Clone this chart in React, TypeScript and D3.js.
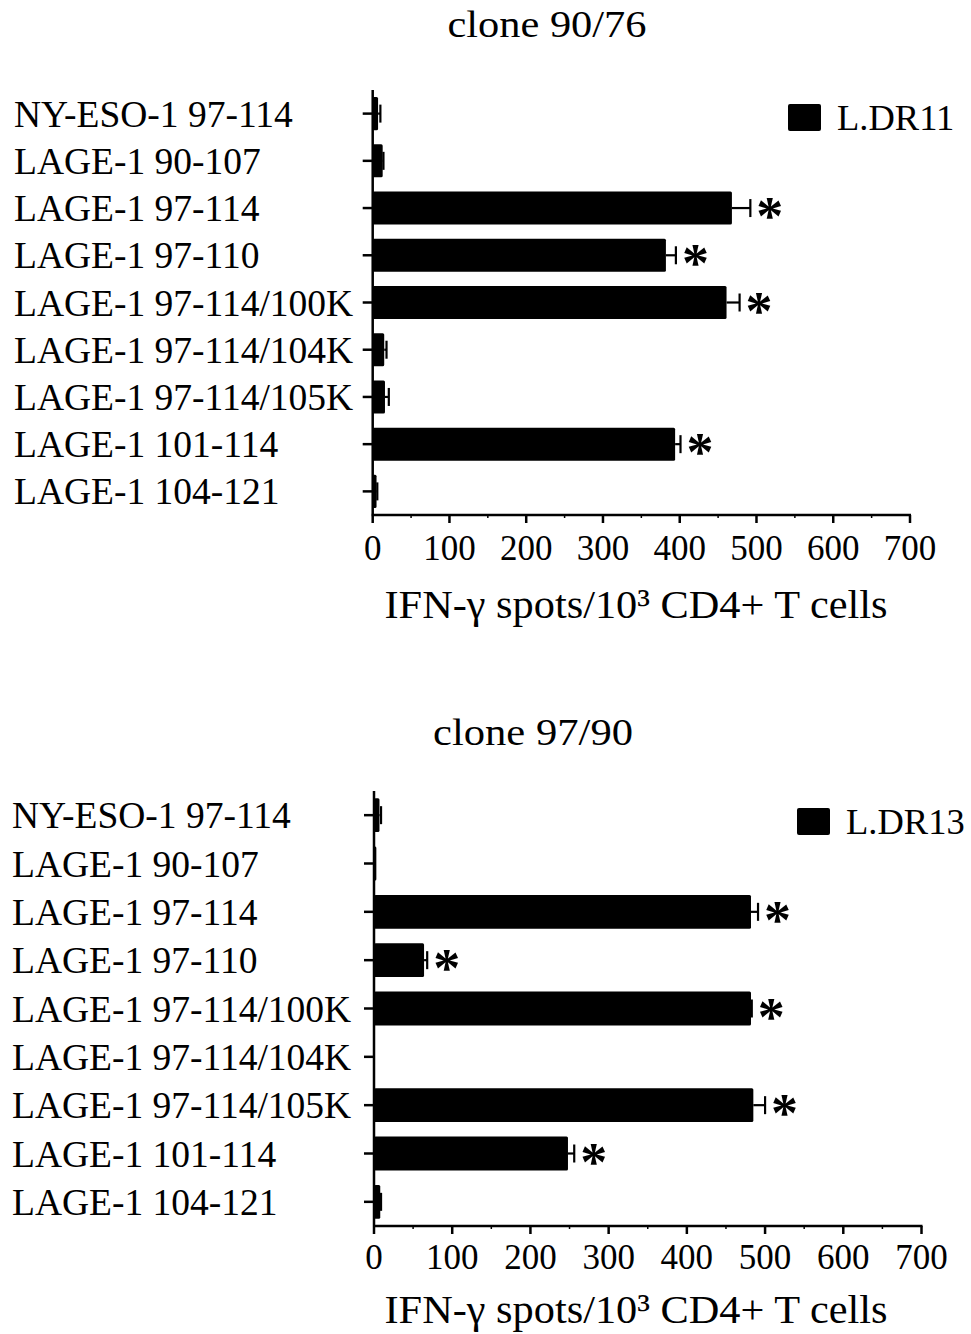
import React from "react";
import * as d3 from "d3";

const categories = [
  "NY-ESO-1 97-114",
  "LAGE-1 90-107",
  "LAGE-1 97-114",
  "LAGE-1 97-110",
  "LAGE-1 97-114/100K",
  "LAGE-1 97-114/104K",
  "LAGE-1 97-114/105K",
  "LAGE-1 101-114",
  "LAGE-1 104-121",
];

const values1 = [7, 13, 468, 382, 461, 15, 16, 394, 5];
const errors1 = [3, 1, 24, 13, 17, 3, 5, 7, 1];
const sig1 = [false, false, true, true, true, false, false, true, false];

const values2 = [7, 3, 482, 64, 482, 0, 485, 248, 8];
const errors2 = [2, 0, 9, 4, 1, 0, 15, 8, 1];
const sig2 = [false, false, true, true, true, false, true, true, false];

const xTicks = [0, 100, 200, 300, 400, 500, 600, 700];
const minorTicks = [50, 150, 250, 350, 450, 550, 650];

const titles = ["clone 90/76", "clone 97/90"];
const legends = ["L.DR11", "L.DR13"];
const axisLabel = "IFN-γ spots/10³ CD4+ T cells";

const FONT = "'Liberation Serif', 'Times New Roman', serif";

type PanelProps = {
  values: number[];
  errors: number[];
  sig: boolean[];
  title: string;
  legend: string;
  xr: [number, number];
  yr: [number, number];
  labelX: number;
  titleX: number;
  titleY: number;
  titleLen: number;
  legendX: number;
  legendY: number;
  tickLabelY: number;
  axisLabelY: number;
};

function Panel(p: PanelProps) {
  const x = d3.scaleLinear().domain([0, 700]).range(p.xr);
  const y = d3
    .scaleBand<string>()
    .domain(categories)
    .range(p.yr)
    .paddingInner(0.3)
    .paddingOuter(0.15);
  const bw = y.bandwidth();
  const yc = (c: string) => (y(c) as number) + bw / 2;
  const [x0, x1] = p.xr;
  const [y0, y1] = p.yr;
  return (
    <g fontFamily={FONT} fill="#000">
      <text x={p.titleX} y={p.titleY} fontSize={38} textAnchor="middle" textLength={p.titleLen} lengthAdjust="spacingAndGlyphs">
        {p.title}
      </text>
      {/* bars */}
      {categories.map((c, i) => {
        const v = p.values[i];
        const e = p.errors[i];
        const cy = yc(c);
        const endX = x(v + e);
        return (
          <g key={c}>
            {v > 0 && (
              <rect x={x0} y={y(c)} width={Math.max(0, x(v) - x0)} height={bw} rx={1.5} fill="#000" />
            )}
            {e > 0 && (
              <g stroke="#000" strokeWidth={2.2}>
                <line x1={x(v)} x2={endX} y1={cy} y2={cy} />
                <line x1={endX} x2={endX} y1={cy - 9} y2={cy + 9} />
              </g>
            )}
            {p.sig[i] && (
              <text x={endX + 6} y={cy + 26} fontSize={54} fontWeight="bold">
                *
              </text>
            )}
          </g>
        );
      })}
      {/* y axis */}
      <line x1={x0} x2={x0} y1={y0} y2={y1} stroke="#000" strokeWidth={2.5} />
      {categories.map((c) => (
        <g key={"t" + c}>
          <line x1={x0 - 10} x2={x0} y1={yc(c)} y2={yc(c)} stroke="#000" strokeWidth={2.5} />
          <text x={p.labelX} y={yc(c) + 13} fontSize={37.5}>
            {c}
          </text>
        </g>
      ))}
      {/* x axis */}
      <line x1={x0 - 1} x2={x1 + 1} y1={y1} y2={y1} stroke="#000" strokeWidth={2.5} />
      {xTicks.map((t) => (
        <g key={"x" + t}>
          <line x1={x(t)} x2={x(t)} y1={y1} y2={y1 + 8} stroke="#000" strokeWidth={2.5} />
          <text x={x(t)} y={p.tickLabelY} fontSize={35} textAnchor="middle">
            {t}
          </text>
        </g>
      ))}
      {minorTicks.map((t) => (
        <line key={"m" + t} x1={x(t)} x2={x(t)} y1={y1} y2={y1 + 3} stroke="#000" strokeWidth={1.5} />
      ))}
      <text x={636} y={p.axisLabelY} fontSize={41} textAnchor="middle" textLength={503} lengthAdjust="spacingAndGlyphs">
        {axisLabel}
      </text>
      {/* legend */}
      <rect x={p.legendX} y={p.legendY} width={33} height={27} rx={2} fill="#000" />
      <text x={p.legendX + 49} y={p.legendY + 26} fontSize={36.5}>
        {p.legend}
      </text>
    </g>
  );
}

export default function App() {
  return (
    <div style={{ position: "absolute", left: 0, top: 0 }}>
      <svg width={971} height={1334} viewBox="0 0 971 1334" style={{ display: "block", background: "#fff" }}>
        <rect width={971} height={1334} fill="#fff" />
        <Panel
          values={values1}
          errors={errors1}
          sig={sig1}
          title={titles[0]}
          legend={legends[0]}
          xr={[372.7, 910]}
          yr={[90, 515]}
          labelX={14}
          titleX={547}
          titleY={37}
          titleLen={199}
          legendX={788}
          legendY={104}
          tickLabelY={560}
          axisLabelY={618}
        />
        <Panel
          values={values2}
          errors={errors2}
          sig={sig2}
          title={titles[1]}
          legend={legends[1]}
          xr={[374, 921.5]}
          yr={[791, 1226]}
          labelX={12}
          titleX={533}
          titleY={745}
          titleLen={200}
          legendX={797}
          legendY={808}
          tickLabelY={1269}
          axisLabelY={1323}
        />
      </svg>
    </div>
  );
}
